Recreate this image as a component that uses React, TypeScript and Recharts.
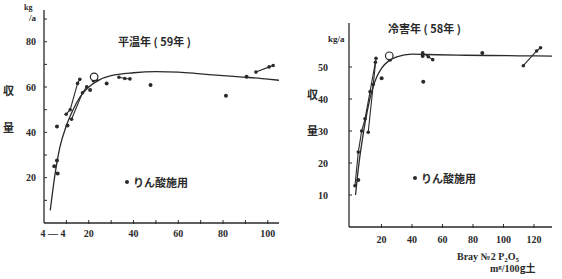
import React from "react";
import { ComposedChart, Line, Scatter, XAxis, YAxis } from "recharts";

// 平温年 (59年)
const LEFT_CURVE = [
  { x: 2.8, y: 5.6 }, { x: 5, y: 22 }, { x: 7, y: 33 }, { x: 10, y: 43 },
  { x: 13, y: 50 }, { x: 16, y: 55.5 }, { x: 20, y: 60 }, { x: 25, y: 63.3 },
  { x: 30, y: 65 }, { x: 40, y: 66.3 }, { x: 50, y: 66.8 }, { x: 60, y: 66.6 },
  { x: 70, y: 65.8 }, { x: 80, y: 65 }, { x: 90, y: 64.3 }, { x: 100, y: 63.5 },
  { x: 105, y: 63 },
];
const LEFT_DOTS = [
  { x: 4.6, y: 25 }, { x: 5.8, y: 27.6 }, { x: 6.1, y: 21.8 }, { x: 5.8, y: 42.6 },
  { x: 10.5, y: 43 }, { x: 20.6, y: 58.7 }, { x: 28, y: 61.6 }, { x: 47.6, y: 60.9 },
  { x: 81.3, y: 56.2 }, { x: 90.5, y: 64.5 },
];
const LEFT_SEGMENTS = [
  [{ x: 9.9, y: 48 }, { x: 11.7, y: 50 }, { x: 15, y: 61.6 }, { x: 16, y: 63.4 }],
  [{ x: 12.3, y: 45.8 }, { x: 17.2, y: 57.5 }, { x: 19.1, y: 60.1 }],
  [{ x: 22.1, y: 62.8 }, { x: 23.5, y: 63.2 }],
  [{ x: 33.5, y: 64.3 }, { x: 36.1, y: 63.8 }, { x: 38.4, y: 63.6 }],
  [{ x: 94.7, y: 66.6 }, { x: 100.6, y: 68.9 }, { x: 102.4, y: 69.5 }],
];
const LEFT_OPEN = [{ x: 22.4, y: 64.5 }];
const LEFT_X_TICKS = [4, 10, 20, 30, 40, 50, 60, 70, 80, 90, 100];
const LEFT_X_LABELS: Record<number, string> = { 4: "4 — 4", 20: "20", 40: "40", 60: "60", 80: "80", 100: "100" };
const LEFT_Y_TICKS = [10, 20, 30, 40, 50, 60, 70, 80, 90];
const LEFT_Y_LABELS = [20, 40, 60, 80];

// 冷害年 (58年)
const RIGHT_CURVE = [
  { x: 3, y: 10 }, { x: 5, y: 19 }, { x: 8, y: 29 }, { x: 11, y: 37 },
  { x: 14, y: 43 }, { x: 17, y: 47 }, { x: 20, y: 49.6 }, { x: 25, y: 52 },
  { x: 30, y: 53.2 }, { x: 40, y: 54 }, { x: 50, y: 53.9 }, { x: 70, y: 53.7 },
  { x: 90, y: 53.6 }, { x: 110, y: 53.5 }, { x: 132, y: 53.4 },
];
const RIGHT_DOTS = [
  { x: 4.8, y: 14.7 }, { x: 20.1, y: 46.5 }, { x: 25.6, y: 52.3 }, { x: 47, y: 53.4 },
  { x: 47.4, y: 45.4 }, { x: 86.1, y: 54.4 },
];
const RIGHT_SEGMENTS = [
  [{ x: 2.6, y: 12.9 }, { x: 4.8, y: 23.4 }, { x: 7, y: 30 }, { x: 9.2, y: 33.8 }, { x: 12.5, y: 42.3 }, { x: 16, y: 51.5 }],
  [{ x: 11.3, y: 29.6 }, { x: 14.6, y: 44.5 }, { x: 16.4, y: 52.7 }],
  [{ x: 47, y: 54.4 }, { x: 50.7, y: 53.2 }, { x: 53.6, y: 52.3 }],
  [{ x: 113, y: 50.4 }, { x: 121.7, y: 55 }, { x: 124.3, y: 56 }],
];
const RIGHT_OPEN = [{ x: 25.1, y: 53.5 }];
const RIGHT_X_TICKS = [20, 40, 60, 80, 100, 120];
const RIGHT_Y_TICKS = [10, 20, 30, 40, 50];

const INK = "#2a2a2a";
const NUM_FONT = "'Liberation Serif', serif";
const JP_FONT = "'Noto Sans CJK JP', sans-serif";

const dot = (r: number) => (p: any) => <circle cx={p.cx} cy={p.cy} r={r} fill={INK} />;
const ring = (p: any) => <circle cx={p.cx} cy={p.cy} r={3.8} fill="#fff" stroke={INK} strokeWidth={1.2} />;

const yTick = (labels: number[], gap: number) => (p: any) => {
  const v = p.payload.value;
  return (
    <g>
      <line x1={p.x} x2={p.x + 3} y1={p.y} y2={p.y} stroke={INK} strokeWidth={1} />
      {labels.includes(v) && (
        <text x={p.x - gap} y={p.y} dy="0.35em" textAnchor="end" fontSize={10} fontWeight="bold" fontFamily={NUM_FONT} fill={INK}>
          {v}
        </text>
      )}
    </g>
  );
};

const xTick = (labels: Record<number, string>, dy: number) => (p: any) => {
  const v = p.payload.value;
  return (
    <g>
      {v !== 4 && <line x1={p.x} x2={p.x} y1={p.y - 3} y2={p.y + 1} stroke={INK} strokeWidth={1} />}
      {labels[v] && (
        <text x={p.x} y={p.y + dy} textAnchor="middle" fontSize={10} fontWeight="bold" fontFamily={NUM_FONT} fill={INK}>
          {labels[v]}
        </text>
      )}
    </g>
  );
};

function Panel(props: {
  width: number; top: number; right: number; yWidth: number; xHeight: number;
  xDomain: [number, number]; yDomain: [number, number];
  xTicks: number[]; xLabels: Record<number, string>; xDy: number;
  yTicks: number[]; yLabels: number[]; yGap: number;
  curve: { x: number; y: number }[]; dots: { x: number; y: number }[];
  segments: { x: number; y: number }[][]; open: { x: number; y: number }[];
}) {
  return (
    <ComposedChart width={props.width} height={279} margin={{ top: props.top, right: props.right, bottom: 0, left: 0 }}>
      <XAxis
        type="number" dataKey="x" domain={props.xDomain} ticks={props.xTicks} allowDataOverflow
        height={props.xHeight} tickSize={0} tickMargin={0} tickLine={false}
        axisLine={{ stroke: INK, strokeWidth: 1.3 }} tick={xTick(props.xLabels, props.xDy)} interval={0}
      />
      <YAxis
        type="number" dataKey="y" domain={props.yDomain} ticks={props.yTicks} allowDataOverflow
        width={props.yWidth} tickSize={0} tickMargin={0} tickLine={false}
        axisLine={{ stroke: INK, strokeWidth: 1.3 }} tick={yTick(props.yLabels, props.yGap)} interval={0}
      />
      <Line data={props.curve} dataKey="y" type="monotone" stroke={INK} strokeWidth={1.3} dot={false} isAnimationActive={false} />
      {props.segments.map((s, i) => (
        <Scatter key={i} data={s} line={{ stroke: INK, strokeWidth: 1.1 }} lineType="joint" shape={dot(1.8)} isAnimationActive={false} />
      ))}
      <Scatter data={props.dots} shape={dot(2)} isAnimationActive={false} />
      <Scatter data={props.open} shape={ring} isAnimationActive={false} />
    </ComposedChart>
  );
}

export default function App() {
  const jp = { fontFamily: JP_FONT, fill: INK, fontWeight: 700 as const };
  return (
    <div style={{ position: "absolute", left: 0, top: 0, width: 562, height: 279, background: "#fff" }}>
      <div style={{ position: "absolute", left: 0, top: 0 }}>
        <Panel
          width={290} top={10} right={11} yWidth={44} xHeight={56}
          xDomain={[0, 105]} yDomain={[0, 94]}
          xTicks={LEFT_X_TICKS} xLabels={LEFT_X_LABELS} xDy={14}
          yTicks={LEFT_Y_TICKS} yLabels={LEFT_Y_LABELS} yGap={8}
          curve={LEFT_CURVE} dots={LEFT_DOTS} segments={LEFT_SEGMENTS} open={LEFT_OPEN}
        />
      </div>
      <div style={{ position: "absolute", left: 290, top: 0 }}>
        <Panel
          width={272} top={23} right={10} yWidth={59} xHeight={52}
          xDomain={[-1.3, 131.8]} yDomain={[0, 63.75]}
          xTicks={RIGHT_X_TICKS}
          xLabels={{ 20: "20", 40: "40", 60: "60", 80: "80", 100: "100", 120: "120" }} xDy={16}
          yTicks={RIGHT_Y_TICKS} yLabels={RIGHT_Y_TICKS} yGap={21}
          curve={RIGHT_CURVE} dots={RIGHT_DOTS} segments={RIGHT_SEGMENTS} open={RIGHT_OPEN}
        />
      </div>
      <svg width={562} height={279} style={{ position: "absolute", left: 0, top: 0, pointerEvents: "none" }}>
        {/* left panel texts */}
        <text x={24} y={10} fontSize={8} fontWeight="bold" fontFamily={NUM_FONT} fill={INK}>kg</text>
        <text x={29} y={21} fontSize={9} fontWeight="bold" fontFamily={NUM_FONT} fill={INK}>/a</text>
        <text x={118} y={46} fontSize={11} {...jp}>平温年 ( 59年 )</text>
        <text x={3} y={95} fontSize={11} {...jp}>収</text>
        <text x={3} y={132} fontSize={11} {...jp}>量</text>
        <circle cx={127} cy={182} r={2} fill={INK} />
        <text x={133} y={187} fontSize={11} {...jp}>りん酸施用</text>
        {/* right panel texts */}
        <text x={328} y={42} fontSize={9} fontWeight="bold" fontFamily={NUM_FONT} fill={INK}>kg/a</text>
        <text x={388} y={33} fontSize={11} {...jp}>冷害年 ( 58年 )</text>
        <text x={307} y={99} fontSize={11} {...jp}>収</text>
        <text x={307} y={135} fontSize={11} {...jp}>量</text>
        <circle cx={415} cy={178} r={2} fill={INK} />
        <text x={421} y={183} fontSize={11} {...jp}>りん酸施用</text>
        <text x={457} y={260} fontSize={10} fontWeight="bold" fontFamily={NUM_FONT} fill={INK}>
          Bray №2 P<tspan fontSize={7} dy={2}>2</tspan><tspan dy={-2}>O</tspan><tspan fontSize={7} dy={2}>5</tspan>
        </text>
        <text x={490} y={272} fontSize={10} fontWeight="bold" fontFamily={NUM_FONT} fill={INK}>
          m<tspan fontSize={7} dy={-3}>g</tspan><tspan dy={3}>/100</tspan><tspan fontFamily={JP_FONT}>g土</tspan>
        </text>
      </svg>
    </div>
  );
}
